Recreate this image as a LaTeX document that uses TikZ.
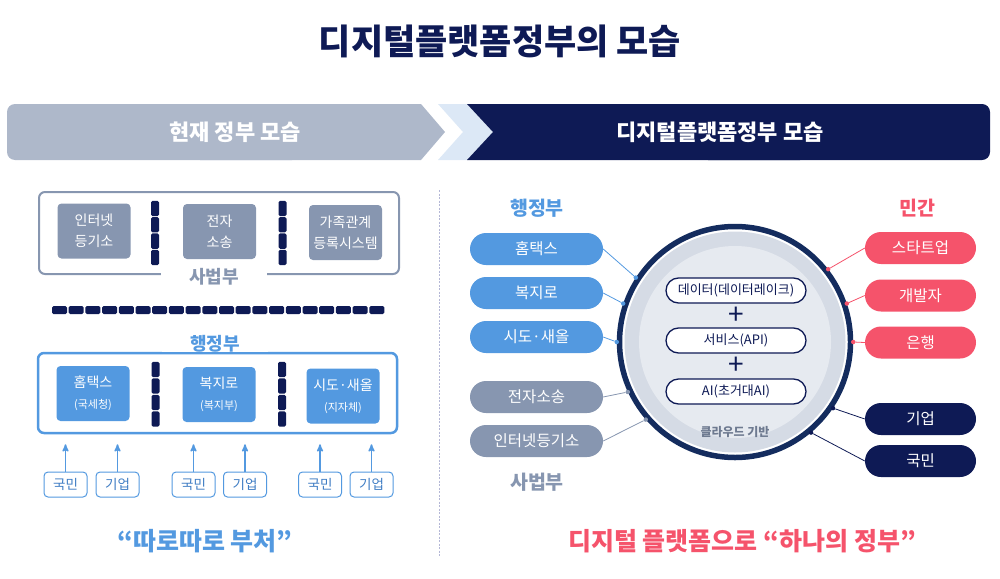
\documentclass[tikz,border=0pt]{standalone}
\usepackage{fontspec}
\setmainfont{Noto Sans CJK KR}
\usetikzlibrary{arrows,positioning}

\definecolor{navy}{HTML}{0E1A55}
\definecolor{ringnavy}{HTML}{142C5E}
\definecolor{hdgray}{HTML}{AEB8CA}
\definecolor{chevblue}{HTML}{DCE8F6}
\definecolor{slate}{HTML}{8796B0}
\definecolor{govblue}{HTML}{5399E0}
\definecolor{tagtext}{HTML}{3F7DC4}
\definecolor{prired}{HTML}{F5536B}
\definecolor{ringband}{HTML}{D5DBE5}
\definecolor{ringin}{HTML}{E6EAF0}
\definecolor{cloudtext}{HTML}{6E7A90}
\definecolor{dashcol}{HTML}{B4B7D6}

\newcommand{\fsz}[1]{\fontsize{#1}{#1}\selectfont}

\begin{document}
\begin{tikzpicture}[x=1pt, y=-1pt, >=stealth',
  box/.style={rounded corners=4, minimum width=73, minimum height=55, inner sep=0, align=center, text=white, font=\fontsize{14}{21}\selectfont},
  blk/.style={fill=navy, rounded corners=1.5, minimum width=8, minimum height=15.3, inner sep=0},
  hblk/.style={fill=navy, rounded corners=1.5, minimum width=15, minimum height=8, inner sep=0},
  frame/.style={draw, line width=2, rounded corners=6, inner sep=0},
  flabel/.style={fill=white, inner xsep=28, inner ysep=0, font=\bfseries\fsz{18}},
  tag/.style={draw=govblue, line width=1, fill=white, rounded corners=4, minimum width=43, minimum height=25, inner sep=0, text=tagtext, font=\fsz{13.5}},
  up/.style={->, govblue, line width=1.5, shorten >=10},
  pill/.style={rounded corners=16, minimum height=32, inner sep=0, text=white, font=\fsz{15.5}},
  core/.style={draw=navy, line width=1.3, fill=white, rounded corners=12.5, minimum width=140, minimum height=25, inner sep=0, text=navy, font=\fsz{13}},
  dot/.style={circle, inner sep=0, minimum size=4.5},
  link/.style={line width=0.8}]
  \useasboundingbox (0,0) rectangle (1000,578);

  % title and header bar
  \node[font=\bfseries\fsz{35}, text=navy] (title) at (500,41) {디지털플랫폼정부의 모습};
  \fill[hdgray, rounded corners=8] (7,104) rectangle (300,160);
  \fill[hdgray] (200,104) -- (421,104) -- (445,132) -- (421,160) -- (200,160) -- cycle;
  \fill[chevblue] (438,104) -- (467,104) -- (493,132) -- (467,160) -- (438,160) -- (463,132) -- cycle;
  \fill[navy, rounded corners=8] (700,104) rectangle (990,160);
  \fill[navy] (467,104) -- (800,104) -- (800,160) -- (467,160) -- (493,132) -- cycle;
  \node[font=\bfseries\fsz{22}, text=white] (hdcur) at (235,132) {현재 정부 모습};
  \node[font=\bfseries\fsz{22}, text=white] (hdnew) at (720,132) {디지털플랫폼정부 모습};

  \draw[dashcol, line width=1, dash pattern=on 2pt off 1.5pt] (439,190) -- (439,557);

  % current government: judiciary
  \node[frame, draw=slate, minimum width=360, minimum height=82] (sbframe) at (219,233) {};
  \node[flabel, text=slate] (sblabel) at (214,277) {사법부};
  \node[box, fill=slate] (iros) at (94,231) {인터넷\\등기소};
  \node[box, fill=slate] (ecourt) at (219.5,231.5) {전자\\소송};
  \node[box, fill=slate] (family) at (345.5,232.5) {가족관계\\등록시스템};
  \foreach \x [count=\k] in {155,282.5}
    \foreach \i in {0,...,3}
      \node[blk] (sb\k-\i) at (\x,208.5+16.3*\i) {};

  \foreach \i in {0,...,19}
    \node[hblk] (hb\i) at (59.5+16.7*\i,310) {};

  % current government: administration
  \node[frame, draw=govblue, line width=2.5, minimum width=359, minimum height=80] (hjframe) at (217.5,393) {};
  \node[flabel, text=govblue] (hjlabel) at (215,344) {행정부};
  \node[box, fill=govblue] (hometaxb) at (93,393.5) {홈택스\\{\fsz{11}(국세청)}};
  \node[box, fill=govblue] (bokjirob) at (219,394.5) {복지로\\{\fsz{11}(복지부)}};
  \node[box, fill=govblue] (saeolb) at (343,396) {시도·새올\\{\fsz{11}(지자체)}};
  \foreach \x [count=\k] in {155.5,282}
    \foreach \i in {0,...,3}
      \node[blk] (hj\k-\i) at (\x,369.5+16.5*\i) {};

  \foreach \n/\x/\t in {1/65.5/국민, 2/117.5/기업, 3/193.5/국민, 4/245/기업, 5/320/국민, 6/371.5/기업}{
    \node[tag] (t\n) at (\x,484.5) {\t};
    \draw[up] (t\n) -- (t\n |- hjframe.south);
  }

  \node[font=\bfseries\fsz{25}, text=govblue] (capl) at (205,541) {“따로따로 부처”};

  % digital platform government
  \fill[ringband] (735,342) circle (110.5pt);
  \fill[ringin] (735,342) circle (96pt);
  \node[circle, draw=ringnavy, line width=5.5, minimum size=231, inner sep=0] (ring) at (735,342) {};
  \node[core] (data) at (736,290.5) {데이터(데이터레이크)};
  \node[text=navy, font=\fsz{28}, inner sep=0] (plus1) at (736,316) {+};
  \node[core] (api) at (736,340.5) {서비스(API)};
  \node[text=navy, font=\fsz{28}, inner sep=0] (plus2) at (736,366) {+};
  \node[core] (ai) at (736,391.5) {AI(초거대AI)};
  \node[font=\bfseries\fsz{12}, text=cloudtext] (cloud) at (735,432) {클라우드 기반};

  \node[font=\bfseries\fsz{19.5}, text=govblue] (hjtitle) at (537,208) {행정부};
  \node[font=\bfseries\fsz{19.5}, text=slate] (sbtitle) at (537,482) {사법부};
  \node[font=\bfseries\fsz{19.5}, text=prired] (mgtitle) at (917,208) {민간};

  \node[pill, fill=govblue, minimum width=133] (hometax) at (536.5,249) {홈택스};
  \node[pill, fill=govblue, minimum width=133] (bokjiro) at (536.5,293) {복지로};
  \node[pill, fill=govblue, minimum width=133] (saeol) at (536.5,337) {시도·새올};
  \node[pill, fill=slate, minimum width=133] (ecourtp) at (536.5,397) {전자소송};
  \node[pill, fill=slate, minimum width=133] (irosp) at (536.5,441) {인터넷등기소};

  \node[pill, fill=prired, minimum width=111] (startup) at (920.5,248) {스타트업};
  \node[pill, fill=prired, minimum width=111] (dev) at (920.5,295.5) {개발자};
  \node[pill, fill=prired, minimum width=111] (bank) at (920.5,342.5) {은행};
  \node[pill, fill=navy, minimum width=111] (corp) at (920.5,419) {기업};
  \node[pill, fill=navy, minimum width=111] (people) at (920.5,461) {국민};

  \foreach \p/\s/\a/\c in {hometax/east/147/govblue, bokjiro/east/161/govblue, saeol/east/180/govblue,
      ecourtp/east/205/slate, irosp/east/221/slate, startup/west/38.8/prired, dev/west/19.4/prired,
      bank/west/0/prired, corp/west/326.7/navy, people/west/310.2/navy}{
    \node[dot, fill=\c] (d-\p) at (ring.\a) {};
    \draw[link, \c] (\p.\s) -- (d-\p);
  }

  \node[font=\bfseries\fsz{25}, text=prired] (capr) at (742,541) {디지털 플랫폼으로 “하나의 정부”};
\end{tikzpicture}
\end{document}
